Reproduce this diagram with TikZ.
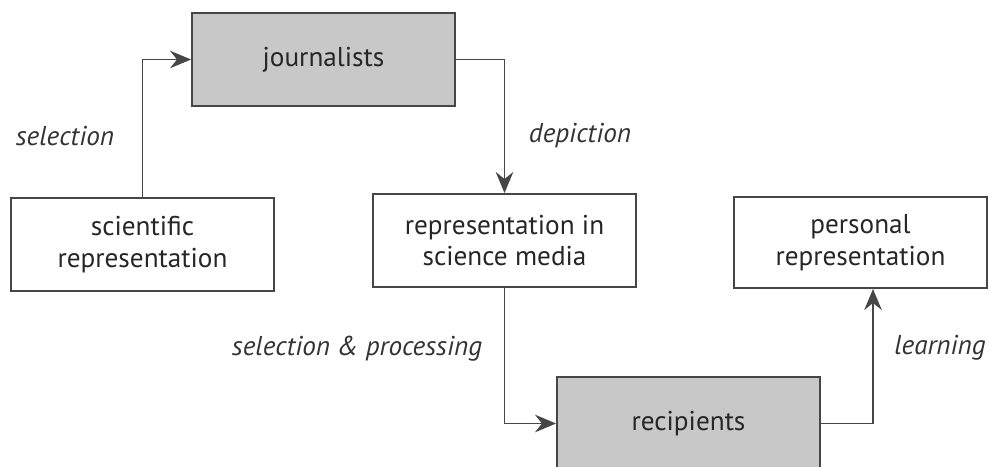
\documentclass[tikz,border=0pt]{standalone}
\usepackage{fontspec}
\setmainfont{PT Sans}
\usetikzlibrary{arrows.meta}
\definecolor{boxgray}{RGB}{200,200,200}
\definecolor{linegray}{RGB}{70,70,70}
\begin{document}
\begin{tikzpicture}
  [x=0.02cm,y=-0.02cm,
   font=\fontsize{15.5}{18}\selectfont,
   stage/.style={rectangle, draw=linegray, line width=1.1pt, align=center, minimum height=1.86cm, inner sep=0pt, text=black!85},
   actor/.style={stage, fill=boxgray},
   flow/.style={draw=linegray, line width=1.1pt, -{Stealth[length=12pt,width=10pt,inset=4pt]}},
   verb/.style={font=\fontsize{15.5}{18}\selectfont\itshape, text=black!80}]
  \useasboundingbox (0,0) rectangle (989,466);
  \node[actor, minimum width=5.26cm] (journalists) at (323.5,59.5) {journalists};
  \node[stage, minimum width=5.26cm] (scientific) at (142.5,244.5) {scientific\\representation};
  \node[stage, minimum width=5.26cm] (media) at (504.5,240.5) {representation in\\science media};
  \node[stage, minimum width=5.06cm, minimum height=1.82cm] (personal) at (860.5,242.5) {personal\\representation};
  \node[actor, minimum width=5.26cm] (recipients) at (688.5,423.5) {recipients};

  \node[verb] (selection) at (65,136) {selection};
  \node[verb] (depiction) at (580,136) {depiction};
  \node[verb] (processing) at (357,349) {selection \& processing};
  \node[verb] (learning) at (940,348) {learning};

  \draw[flow] (scientific.north) |- (journalists.west);
  \draw[flow] (journalists.east) -| (media.north);
  \draw[flow] (media.south) |- (recipients.west);
  \draw[flow] (recipients.east) -| ([xshift=0.25cm]personal.south);
\end{tikzpicture}
\end{document}
